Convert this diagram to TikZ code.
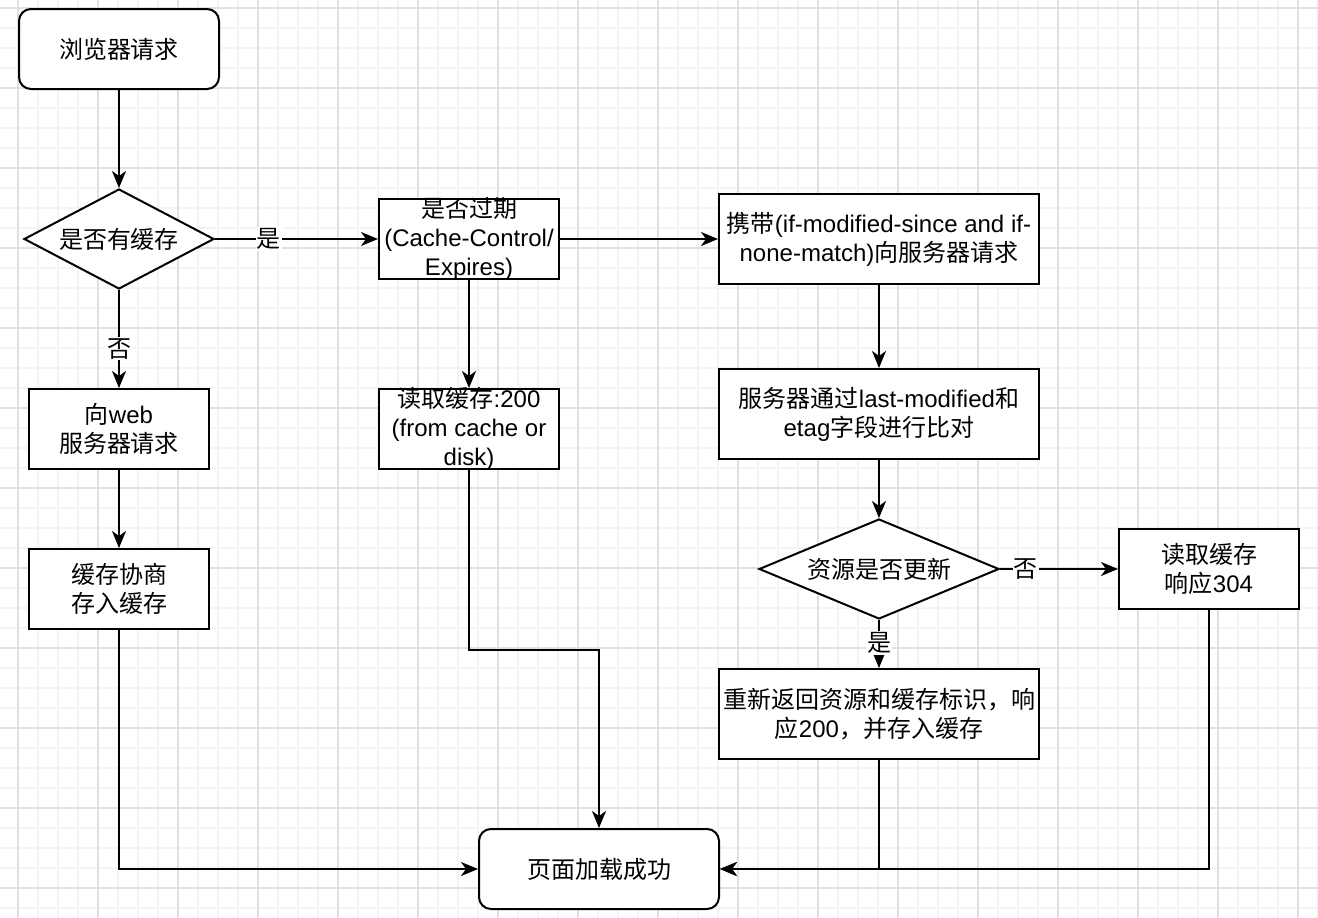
\documentclass[tikz,border=0pt]{standalone}
\usepackage{fontspec}
\usepackage{tikz}
\usetikzlibrary{shapes.geometric,arrows.meta}
\setmainfont{Noto Sans CJK SC}
\newfontfamily\lat{Liberation Sans}
\definecolor{gridminor}{HTML}{F4F4F4}
\definecolor{gridmajor}{HTML}{E0E0E0}
\tikzset{
    base-text/.style = {font=\fontsize{24}{29}\selectfont, align=center, text=black},
    round-step/.style = {base-text, draw, line width=2pt, rectangle, rounded corners=12pt, fill=white, minimum height=80pt, inner sep=2pt},
    plain-step/.style = {base-text, draw, line width=2pt, rectangle, fill=white, inner sep=2pt},
    tight-step/.style = {plain-step, inner ysep=-6pt},
    decision/.style = {base-text, draw, line width=2pt, diamond, aspect=2, inner sep=0pt, fill=white, minimum height=100pt},
    flow/.style = {line width=2pt, -{Stealth[length=17pt,width=14pt,inset=5pt]}},
    edge-label/.style = {base-text, fill=white, inner sep=1pt},
}

\begin{document}
\begin{tikzpicture}[x=1pt,y=-1pt]
\useasboundingbox (0,0) rectangle (1318,918);
\fill[white] (0,0) rectangle (1318,918);
% grid
\foreach \gx in {-2,18,...,1318} \draw[gridminor, line width=1.2pt] (\gx,0) -- (\gx,918);
\foreach \gy in {8,28,...,918} \draw[gridminor, line width=1.2pt] (0,\gy) -- (1318,\gy);
\foreach \gx in {18,98,...,1318} \draw[gridmajor, line width=1.2pt] (\gx,0) -- (\gx,918);
\foreach \gy in {8,88,...,918} \draw[gridmajor, line width=1.2pt] (0,\gy) -- (1318,\gy);

% nodes
\node[round-step, minimum width=200pt] (request) at (119,49) {浏览器请求};
\node[decision, minimum width=190pt] (hascache) at (119,239) {是否有缓存};
\node[tight-step, minimum width=180pt, minimum height=80pt] (expired) at (469,239)
    {是否过期\\{\lat (Cache-Control/}\\{\lat Expires)}};
\node[plain-step, minimum width=320pt, minimum height=90pt] (conditional) at (879,239)
    {携带{\lat (if-modified-since and if-}\\{\lat none-match)}向服务器请求};
\node[plain-step, minimum width=180pt, minimum height=80pt] (webreq) at (119,429) {向{\lat web}\\服务器请求};
\node[tight-step, minimum width=180pt, minimum height=80pt] (read200) at (469,429)
    {读取缓存{\lat :200}\\{\lat (from cache or}\\{\lat disk)}};
\node[plain-step, minimum width=320pt, minimum height=90pt] (compare) at (879,414)
    {服务器通过{\lat last-modified}和\\{\lat etag}字段进行比对};
\node[decision, minimum width=240pt] (updated) at (879,569) {资源是否更新};
\node[plain-step, minimum width=180pt, minimum height=80pt] (read304) at (1209,569) {读取缓存\\响应{\lat 304}};
\node[plain-step, minimum width=180pt, minimum height=80pt] (negotiate) at (119,589) {缓存协商\\存入缓存};
\node[plain-step, minimum width=320pt, minimum height=90pt] (refresh) at (879,714)
    {重新返回资源和缓存标识，响\\应{\lat 200}，并存入缓存};
\node[round-step, minimum width=240pt] (loaded) at (599,869) {页面加载成功};

% connectors
\draw[flow] (request) -- (hascache);
\draw[flow] (hascache) -- node[edge-label, pos=0.33] {是} (expired);
\draw[flow] (hascache) -- node[edge-label, pos=0.6] {否} (webreq);
\draw[flow] (expired) -- (conditional);
\draw[flow] (expired) -- (read200);
\draw[flow] (conditional) -- (compare);
\draw[flow] (compare) -- (updated);
\draw[flow] (updated) -- node[edge-label, pos=0.22] {否} (read304);
\draw[flow] (updated) -- node[edge-label, pos=0.48] {是} (refresh);
\draw[flow] (webreq) -- (negotiate);
\draw[flow] (negotiate.south) |- (loaded.west);
\draw[flow] (read200.south) -- ++(0,180) -| (loaded.north);
\draw[flow] (read304.south) |- (loaded.east);
\draw[flow] (refresh.south) |- (loaded.east);
\end{tikzpicture}
\end{document}
